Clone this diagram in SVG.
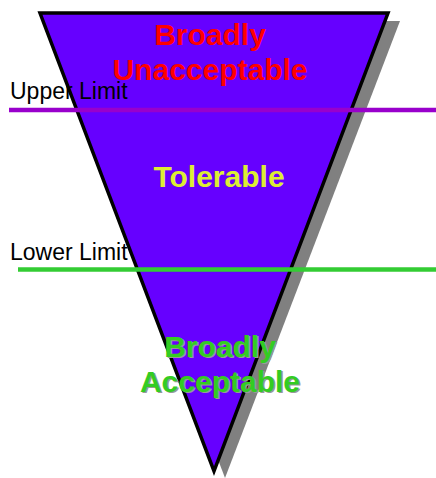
<svg xmlns="http://www.w3.org/2000/svg" width="436" height="478" viewBox="0 0 436 478">
  <style>
    .zone { font-family: "Liberation Sans", Arial, sans-serif; font-weight: bold; font-size: 30px; text-anchor: middle; }
    .limit { font-family: "Liberation Sans", Arial, sans-serif; font-size: 23px; fill: #000; }
  </style>
  <rect width="436" height="478" fill="#fff"/>
  <g id="funnel">
    <polygon points="52,21 400,21 225,478" fill="#808080"/>
    <polygon points="40,13 388,13 214,471" fill="#6600FF" stroke="#000" stroke-width="3.5" stroke-linejoin="miter"/>
  </g>
  <g id="zone-unacceptable">
    <text class="zone" x="210" y="45" fill="#FF0000">Broadly</text>
    <text class="zone" x="210" y="80" fill="#FF0000">Unacceptable</text>
  </g>
  <g id="zone-tolerable">
    <text class="zone" x="219" y="187" fill="#DDEE33">Tolerable</text>
  </g>
  <g id="zone-acceptable">
    <text class="zone" x="221.5" y="358" fill="#999">Broadly</text>
    <text class="zone" x="220" y="357" fill="#33CC22">Broadly</text>
    <text class="zone" x="221.5" y="393" fill="#999">Acceptable</text>
    <text class="zone" x="220" y="392" fill="#33CC22">Acceptable</text>
  </g>
  <g id="connectors">
    <line x1="9" y1="110" x2="436" y2="110" stroke="#9900CC" stroke-width="4.5"/>
    <line x1="18" y1="269.5" x2="436" y2="269.5" stroke="#33CC33" stroke-width="4.5"/>
  </g>
  <g id="upper-limit">
    <text class="limit" x="10" y="99">Upper Limit</text>
  </g>
  <g id="lower-limit">
    <text class="limit" x="10" y="260">Lower Limit</text>
  </g>
</svg>
